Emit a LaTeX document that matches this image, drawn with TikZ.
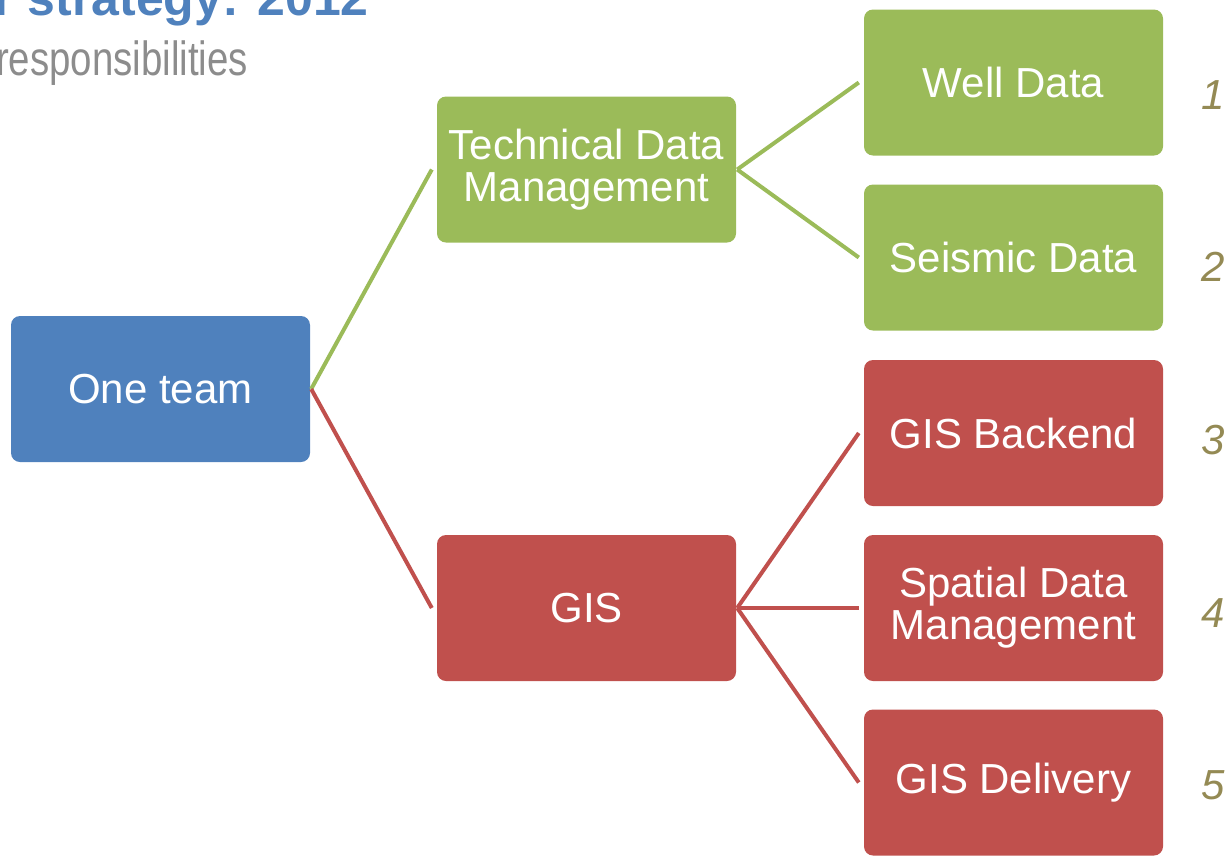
\documentclass[tikz,border=0pt]{standalone}
\usepackage{fontspec}
\setmainfont{Liberation Sans}
\newfontfamily\narrowfont[FakeStretch=0.8]{Liberation Sans}
\definecolor{bblue}{HTML}{4F81BD}
\definecolor{ggreen}{HTML}{9BBB59}
\definecolor{rred}{HTML}{C0504D}
\definecolor{olive}{HTML}{948A54}
\definecolor{ggray}{HTML}{8C8C8C}
\begin{document}
\begin{tikzpicture}[x=1pt,y=-1pt,
  box/.style={rounded corners=9pt, minimum width=299pt, minimum height=146pt, inner sep=0pt,
    text=white, align=center, font=\fontsize{42}{42}\selectfont},
  bluebox/.style={box, fill=bblue},
  greenbox/.style={box, fill=ggreen},
  redbox/.style={box, fill=rred},
  gline/.style={draw=ggreen, line width=4pt},
  rline/.style={draw=rred, line width=4pt},
  num/.style={text=olive, font=\fontsize{42}{42}\selectfont\itshape, inner sep=0pt}]
\useasboundingbox (0,0) rectangle (1232,855);
\clip (0,0) rectangle (1232,855);
\node[anchor=base east, text=bblue, font=\fontsize{50}{50}\selectfont\bfseries, inner sep=0pt] (title) at (369,15) {r strategy: 2012};
\node[anchor=base west, text=ggray, font=\fontsize{48}{48}\selectfont\narrowfont, inner sep=0pt] (sub) at (-4,75) {responsibilities};

\node[bluebox] (one) at (160.5,389) {One team};
\node[greenbox] (tdm) at (586.5,169.5) {Technical Data\\Management};
\node[redbox] (gis) at (586.5,608) {GIS};
\node[greenbox] (well) at (1013.5,82.5) {Well Data};
\node[greenbox] (seis) at (1013.5,257.5) {Seismic Data};
\node[redbox] (back) at (1013.5,433) {GIS Backend};
\node[redbox] (spat) at (1013.5,608) {Spatial Data\\Management};
\node[redbox] (deliv) at (1013.5,782.5) {GIS Delivery};

\draw[gline] ([xshift=1pt]one.east) -- ([xshift=-5pt]tdm.west);
\draw[rline] ([xshift=1pt]one.east) -- ([xshift=-5pt]gis.west);
\draw[gline] ([xshift=1pt]tdm.east) -- ([xshift=-5pt]well.west);
\draw[gline] ([xshift=1pt]tdm.east) -- ([xshift=-5pt]seis.west);
\draw[rline] ([xshift=1pt]gis.east) -- ([xshift=-5pt]back.west);
\draw[rline] ([xshift=1pt]gis.east) -- ([xshift=-5pt]spat.west);
\draw[rline] ([xshift=1pt]gis.east) -- ([xshift=-5pt]deliv.west);

\node[num] (n1) at (1213,95) {1};
\node[num] (n2) at (1213,267) {2};
\node[num] (n3) at (1213,440) {3};
\node[num] (n4) at (1213,613) {4};
\node[num] (n5) at (1213,785) {5};
\end{tikzpicture}
\end{document}
